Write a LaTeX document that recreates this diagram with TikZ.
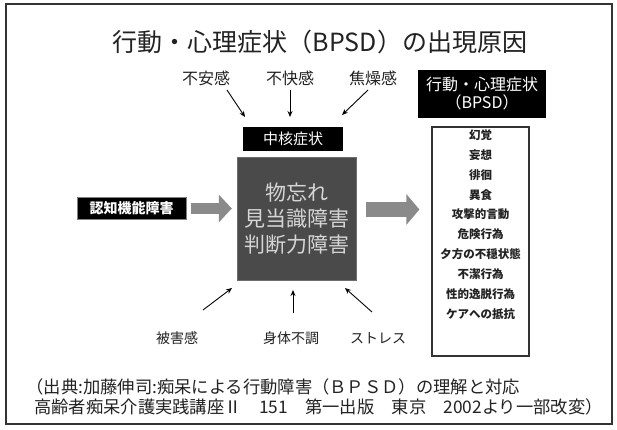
\documentclass[tikz,border=0pt]{standalone}
\usepackage{fontspec}
\setmainfont{Noto Sans CJK JP}
\usetikzlibrary{arrows.meta,calc}
\definecolor{coregray}{HTML}{4A4A4A}
\definecolor{coretext}{HTML}{D6D6D6}
\definecolor{arrgray}{HTML}{8A8A8A}
\definecolor{framecol}{HTML}{333333}
\definecolor{ink}{HTML}{222222}
\begin{document}
\begin{tikzpicture}[x=1pt,y=-1pt,
  lbl/.style={font=\fontsize{16}{18}\selectfont, text=ink, inner sep=0pt},
  lblsmall/.style={font=\fontsize{14}{16}\selectfont, text=ink, inner sep=0pt},
  thinarrow/.style={draw=black, line width=0.9pt, -{Stealth[length=6pt,width=5pt]}},
  bigleft/.style={draw=arrgray, line width=11pt, -{Triangle[length=13pt,width=27pt]}},
  bigright/.style={draw=arrgray, line width=15pt, -{Triangle[length=13pt,width=30pt]}},
  blackbox/.style={fill=black, text=white, inner sep=0pt, anchor=center},
  itemtxt/.style={font=\fontsize{11.5}{13}\selectfont\bfseries, text=ink, inner sep=0pt}
]
\useasboundingbox (0,0) rectangle (617,430);
\fill[white] (0,0) rectangle (617,430);
\draw[framecol, line width=1.3pt] (6,4) rectangle (612,424);

% title
\node[font=\fontsize{25}{30}\selectfont, text=ink] (title) at (320,42) {行動・心理症状（BPSD）の出現原因};

% upper labels
\node[lbl] (l1) at (206,78) {不安感};
\node[lbl] (l2) at (290,78) {不快感};
\node[lbl] (l3) at (373,78) {焦燥感};

% core boxes
\node[blackbox, minimum width=100pt, minimum height=24pt, font=\fontsize{15}{17}\selectfont] (chu) at (293,139) {中核症状};
\node[fill=coregray, draw=coregray!80!white, minimum width=119pt, minimum height=123pt, text=coretext, inner sep=0pt,
      font=\fontsize{21}{26}\selectfont, align=center] (core) at (296.5,218.5) {物忘れ\\見当識障害\\判断力障害};

% left input
\node[blackbox, draw=gray, line width=1pt, minimum width=109pt, minimum height=22pt,
      font=\fontsize{14}{16}\selectfont\bfseries] (nin) at (131.5,208) {認知機能障害};

% right header and list
\node[blackbox, minimum width=128pt, minimum height=48pt, align=center,
      font=\fontsize{16}{18}\selectfont] (hdr) at (482,94) {行動・心理症状\\（BPSD）};
\node[draw=framecol, line width=1.2pt, fill=white, minimum width=97pt, minimum height=229pt, inner sep=0pt] (list) at (480.5,241.5) {};
\foreach \t [count=\i from 0] in {幻覚,妄想,徘徊,異食,攻撃的言動,危険行為,夕方の不穏状態,不潔行為,性的逸脱行為,ケアへの抵抗}
  \node[itemtxt] (item\i) at (480.5,{135+19.9*\i}) {\t};

% bottom labels
\node[lblsmall] (b1) at (177,338) {被害感};
\node[lblsmall] (b2) at (291,338) {身体不調};
\node[lblsmall] (b3) at (378,338) {ストレス};

% arrow end points
\coordinate (a1s) at (227,90);  \coordinate (a1e) at (245,117);
\coordinate (a2s) at (290,90);  \coordinate (a2e) at (290,117);
\coordinate (a3s) at (368,90);  \coordinate (a3e) at (342,115);
\coordinate (c1s) at (203,310); \coordinate (c1e) at (232,288);
\coordinate (c2s) at (293,313); \coordinate (c2e) at (293,290);
\coordinate (c3s) at (372,312); \coordinate (c3e) at (345,288);
\draw[thinarrow] (a1s) -- (a1e);
\draw[thinarrow] (a2s) -- (a2e);
\draw[thinarrow] (a3s) -- (a3e);
\draw[thinarrow] (c1s) -- (c1e);
\draw[thinarrow] (c2s) -- (c2e);
\draw[thinarrow] (c3s) -- (c3e);

% block arrows
\draw[bigleft, shorten <=4pt, shorten >=5pt] ($(nin.east)+(0,0.5)$) -- ($(nin.east -| core.west)+(0,0.5)$);
\draw[bigright, shorten <=10pt, shorten >=12pt] ($(core.east |- nin.east)+(0,1.5)$) -- ($(list.west |- nin.east)+(0,1.5)$);

% source
\node[anchor=west, font=\fontsize{17.3}{20}\selectfont, align=left, text=ink, inner sep=0pt] (src) at (34,397)
  {\kern-0.45em（出典:加藤伸司:痴呆による行動障害（ＢＰＳＤ）の理解と対応\\高齢者痴呆介護実践講座Ⅱ　151　第一出版　東京　2002より一部改変）};
\end{tikzpicture}
\end{document}
